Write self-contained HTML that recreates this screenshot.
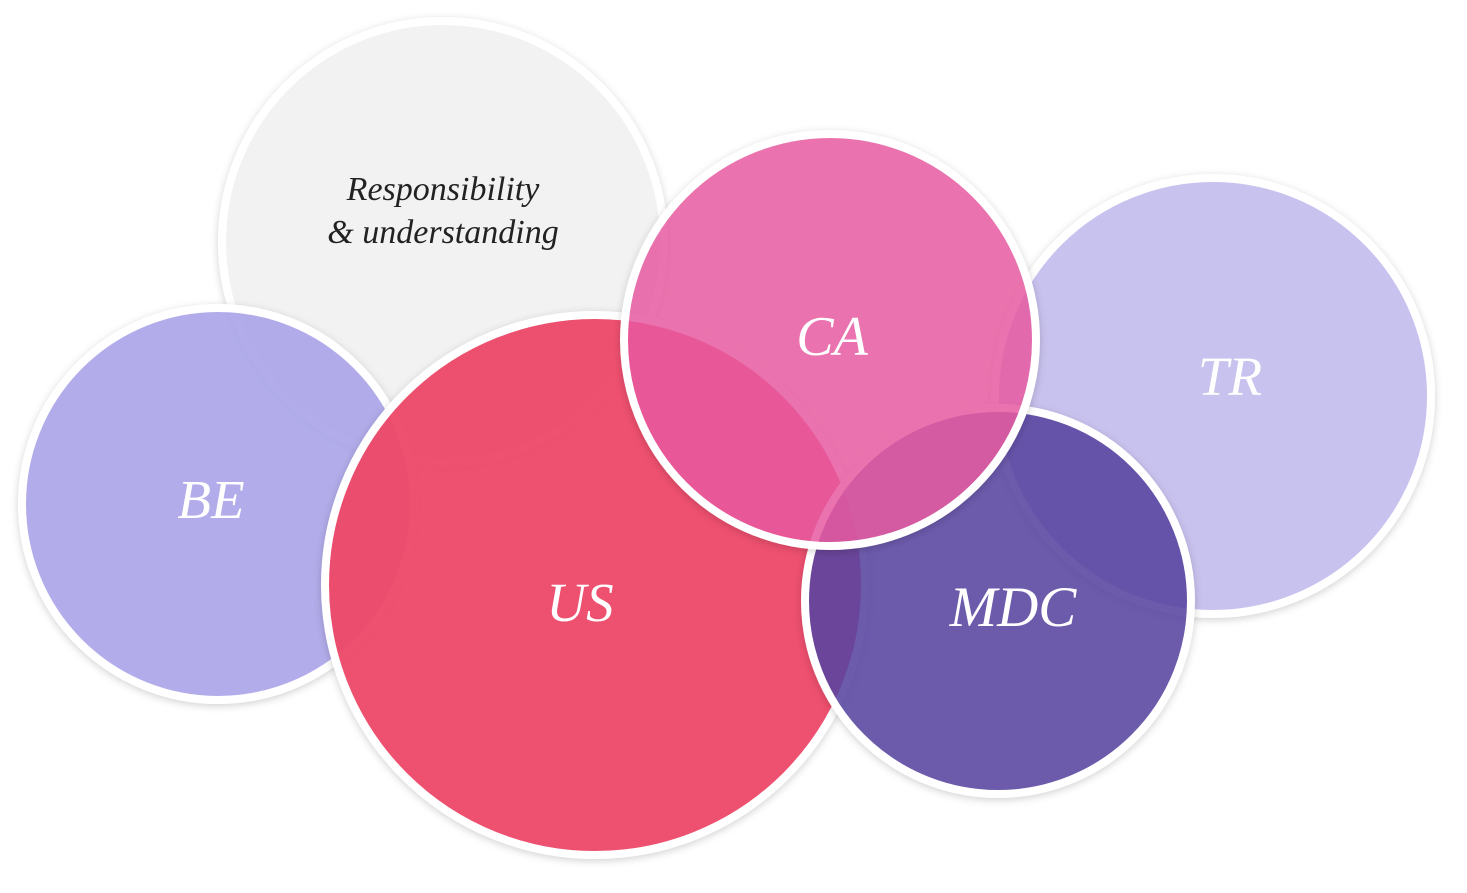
<!DOCTYPE html>
<html><head><meta charset="utf-8"><style>
html,body{margin:0;padding:0;background:#fff;}
svg{display:block;}
text{font-family:"Liberation Serif",serif;font-style:italic;}
</style></head><body>
<svg width="1467" height="893" viewBox="0 0 1467 893" xmlns="http://www.w3.org/2000/svg">
<defs>
<filter id="sh" x="-20%" y="-20%" width="140%" height="140%">
<feDropShadow dx="0" dy="2" stdDeviation="4" flood-color="#000" flood-opacity="0.18"/>
</filter>
</defs>
<circle cx="443" cy="242" r="221" fill="#f2f2f2" stroke="#fff" stroke-width="8" filter="url(#sh)"/>
<circle cx="1213" cy="396" r="218" fill="#c6c0ee" fill-opacity="0.95" stroke="#fff" stroke-width="8" filter="url(#sh)"/>
<circle cx="218" cy="504" r="196" fill="#aba5ea" fill-opacity="0.88" stroke="#fff" stroke-width="8" filter="url(#sh)"/>
<circle cx="595" cy="585" r="270" fill="#ee4a69" fill-opacity="0.95" stroke="#fff" stroke-width="8" filter="url(#sh)"/>
<circle cx="998" cy="601" r="193" fill="#5a45a2" fill-opacity="0.86" stroke="#fff" stroke-width="8" filter="url(#sh)"/>
<circle cx="830" cy="340" r="206" fill="#ea5aa2" fill-opacity="0.82" stroke="#fff" stroke-width="8" filter="url(#sh)"/>
<text x="443" y="200" font-size="34" fill="#222" text-anchor="middle">Responsibility</text>
<text x="443" y="243" font-size="34" fill="#222" text-anchor="middle">&amp; understanding</text>
<text x="211" y="518" font-size="55" fill="#fff" text-anchor="middle">BE</text>
<text x="580" y="621" font-size="55" fill="#fff" text-anchor="middle">US</text>
<text x="832" y="355" font-size="56" fill="#fff" text-anchor="middle">CA</text>
<text x="1230" y="395" font-size="55" fill="#fff" text-anchor="middle">TR</text>
<text x="1013" y="626" font-size="57" fill="#fff" text-anchor="middle">MDC</text>
</svg>
</body></html>
